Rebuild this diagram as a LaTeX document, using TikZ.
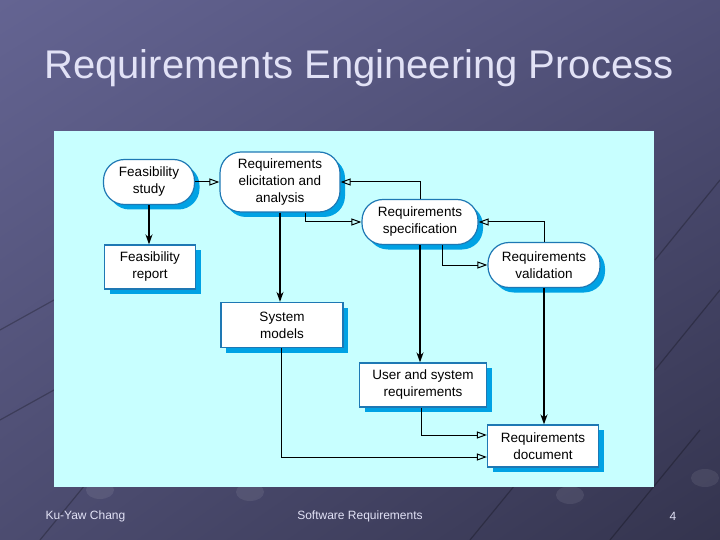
\documentclass[tikz,border=0pt]{standalone}
\usepackage{fontspec}
\setmainfont{Liberation Sans}
\usetikzlibrary{arrows.meta,shadows,shadings}

\definecolor{panelcyan}{RGB}{200,255,255}
\definecolor{shadowblue}{RGB}{0,162,228}
\definecolor{edgeblue}{RGB}{30,120,180}
\definecolor{titlegrey}{RGB}{226,226,246}
\definecolor{bgtl}{RGB}{100,100,146}
\definecolor{bgtr}{RGB}{80,80,120}
\definecolor{bgbl}{RGB}{76,76,112}
\definecolor{bgbr}{RGB}{52,52,78}

\tikzset{
	box/.style={draw=edgeblue, line width=1.2pt, fill=white, inner sep=0pt,
		align=center, font=\fontsize{13.5}{17}\selectfont,
		drop shadow={shadow xshift=5pt, shadow yshift=-5pt, fill=shadowblue, opacity=1}},
	process/.style={box, rounded corners=21pt},
	document/.style={box},
	flow/.style={-{Triangle[open, length=10pt, width=7pt]}, line width=1pt},
	output/.style={-{Stealth[length=10pt, width=7pt]}, line width=1.6pt},
	deco/.style={black, opacity=0.25, line width=1.2pt}
}

\begin{document}
\begin{tikzpicture}[x=1pt, y=-1pt]
	% Slide background
	\shade[upper left=bgtl, upper right=bgtr, lower left=bgbl, lower right=bgbr]
		(0,0) rectangle (720,540);
	\useasboundingbox (0,0) rectangle (720,540);
	
	% Decorative lines
	\foreach \x in {40,470,610} {
		\draw[deco] (\x,540) -- ++(90,-110);
	}
	\foreach \x/\y in {100/490, 570/495, 250/492, 705/478} {
		\fill[white, opacity=0.08] (\x,\y) ellipse (14pt and 9pt);
	}
	\draw[deco] (655,260) -- (720,180);
	\draw[deco] (655,370) -- (720,290);
	\draw[deco] (0,330) -- (54,300);
	\draw[deco] (0,420) -- (54,390);
	
	% Title
	\node[text=titlegrey, font=\fontsize{40}{44}\selectfont] (title) at (359,68) {Requirements Engineering Process};
	
	% Diagram panel
	\fill[panelcyan] (54,131) rectangle (654,487);
	
	% Processes
	\node[process, minimum width=91pt, minimum height=45pt] (fstudy) at (149,182) {Feasibility\\study};
	\node[process, minimum width=120pt, minimum height=60pt] (elicit) at (280,182) {Requirements\\elicitation and\\analysis};
	\node[process, minimum width=116pt, minimum height=45pt] (spec) at (420,222) {Requirements\\specification};
	\node[process, minimum width=112pt, minimum height=45pt] (valid) at (544,265) {Requirements\\validation};
	
	% Documents
	\node[document, minimum width=91pt, minimum height=44pt] (freport) at (150,267) {Feasibility\\report};
	\node[document, minimum width=122pt, minimum height=45pt] (sysmod) at (282,325) {System\\models};
	\node[document, minimum width=127pt, minimum height=44pt] (ureq) at (423,385) {User and system\\requirements};
	\node[document, minimum width=111pt, minimum height=42pt] (rdoc) at (543,446) {Requirements\\document};
	
	% Process flow
	\draw[flow] (fstudy.east) -- (elicit.west);
	\draw[flow] ([xshift=25pt]elicit.south) |- (spec.west);
	\draw[flow] (spec.north) |- (elicit.east);
	\draw[flow] ([xshift=22pt]spec.south) |- (valid.west);
	\draw[flow] (valid.north) |- (spec.east);
	\draw[flow] ([xshift=-2pt]ureq.south) |- ([yshift=11pt]rdoc.west);
	\draw[flow] ([xshift=-1pt]sysmod.south) |- ([yshift=-11pt]rdoc.west);
	
	% Deliverables
	\draw[output] (fstudy.south) -- (fstudy.south |- freport.north);
	\draw[output] (elicit.south) -- (elicit.south |- sysmod.north);
	\draw[output] (spec.south) -- (spec.south |- ureq.north);
	\draw[output] (valid.south) -- (valid.south |- rdoc.north);
	
	% Footer
	\node[text=titlegrey, font=\fontsize{12}{14}\selectfont, anchor=west] (author) at (42,516) {Ku-Yaw Chang};
	\node[text=titlegrey, font=\fontsize{12}{14}\selectfont] (course) at (360,516) {Software Requirements};
	\node[text=titlegrey, font=\fontsize{12}{14}\selectfont] (page) at (673,516) {4};
\end{tikzpicture}
\end{document}
